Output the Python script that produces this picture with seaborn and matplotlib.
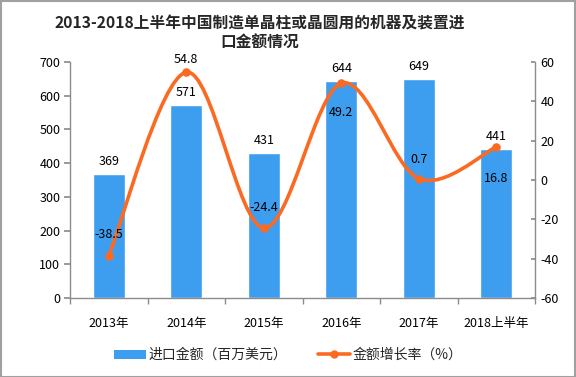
import numpy as np
import pandas as pd
import seaborn as sns
import matplotlib
matplotlib.use("Agg")
import matplotlib.pyplot as plt
from matplotlib.path import Path
from matplotlib.patches import PathPatch, Rectangle, Patch
from matplotlib.lines import Line2D

years = ["2013年", "2014年", "2015年", "2016年", "2017年", "2018上半年"]
imports = [369, 571, 431, 644, 649, 441]
growth = [-38.5, 54.8, -24.4, 49.2, 0.7, 16.8]
growth_labels = ["-38.5", "54.8", "-24.4", "49.2", "0.7", "16.8"]
title = "2013-2018上半年中国制造单晶柱或晶圆用的机器及装置进\n口金额情况"
bar_name = "进口金额（百万美元）"
line_name = "金额增长率（%）"

# label offsets in points (style only)
growth_offsets = [15, 9, 15, -21, 14, -23]

sns.set_theme(style="white")
plt.rcParams['font.family'] = ['Noto Sans CJK SC', 'DejaVu Sans']
plt.rcParams['axes.unicode_minus'] = False

BAR = "#3d9ef0"
LINE = "#fb6a22"
GRAY = "#8c8c8c"

fig = plt.figure(figsize=(5.76, 3.77), dpi=100)
ax = fig.add_axes([70/576, 1-298/377, (535-70)/576, (298-62)/377])

df = pd.DataFrame({"year": years, "value": imports})
sns.barplot(data=df, x="year", y="value", color=BAR, saturation=1, width=0.41, ax=ax)
ax.set_xlim(-0.5, len(years)-0.5)
ax.set_ylim(0, 700)
ax.set_yticks(range(0, 701, 100))
ax.set_xlabel("")
ax.set_ylabel("")
for i, v in enumerate(imports):
    ax.annotate(str(v), (i, v), xytext=(0, 9), textcoords="offset points",
                ha="center", va="center", fontsize=9, color="black")

ax2 = ax.twinx()
ax2.set_ylim(-60, 60)
ax2.set_yticks(range(-60, 61, 20))

# smooth curve via cubic bezier segments (Catmull-Rom)
xs = np.arange(len(growth), dtype=float)
ys = np.array(growth, dtype=float)
verts = [(xs[0], ys[0])]
codes = [Path.MOVETO]
n = len(xs)
for i in range(n-1):
    p0 = np.array([xs[max(i-1, 0)], ys[max(i-1, 0)]])
    p1 = np.array([xs[i], ys[i]])
    p2 = np.array([xs[i+1], ys[i+1]])
    p3 = np.array([xs[min(i+2, n-1)], ys[min(i+2, n-1)]])
    c1 = p1 + (p2 - p0) / 6
    c2 = p2 - (p3 - p1) / 6
    verts += [tuple(c1), tuple(c2), tuple(p2)]
    codes += [Path.CURVE4]*3
ax2.add_patch(PathPatch(Path(verts, codes), fill=False, edgecolor=LINE, lw=2.6, zorder=3))
sns.scatterplot(x=xs, y=ys, color=LINE, s=38, edgecolor=LINE, linewidth=0, ax=ax2, zorder=4)
for i, (v, lab) in enumerate(zip(growth, growth_labels)):
    ax2.annotate(lab, (i, v), xytext=(0, growth_offsets[i]), textcoords="offset points",
                 ha="center", va="center", fontsize=9, color="black", zorder=5)

for a in (ax, ax2):
    for s in a.spines.values():
        s.set_color(GRAY)
        s.set_linewidth(1)
    a.spines["top"].set_visible(False)
    a.tick_params(labelsize=9, colors="black")
ax.spines["right"].set_visible(False)
ax.tick_params(axis="y", left=True, length=4, color=GRAY, direction="out", pad=3)
ax.tick_params(axis="x", bottom=False, pad=8)
ax.set_xticks(np.arange(-0.5, len(years), 1.0), minor=True)
ax.tick_params(axis="x", which="minor", bottom=True, length=4, color=GRAY, direction="out")
ax2.tick_params(axis="y", right=True, length=3, color=GRAY, direction="in", pad=4)
ax2.tick_params(axis="x", bottom=False)
ax2.spines["left"].set_visible(False)
ax2.spines["bottom"].set_visible(False)

fig.text(260/576, 1-33/377, title, ha="center", va="center", fontsize=11.3, fontweight="bold",
         linespacing=1.3)

handles = [Patch(facecolor=BAR, edgecolor="none"),
           Line2D([0], [0], color=LINE, lw=2.6, marker="o", markersize=5)]
fig.legend(handles, [bar_name, line_name], loc="center", bbox_to_anchor=(0.5, 1-355/377),
           ncol=2, frameon=False, fontsize=10, handlelength=2.3, handleheight=0.6,
           columnspacing=2.2, handletextpad=0.2)

fig.patches.append(Rectangle((0.001, 0.001), 0.997, 0.997, transform=fig.transFigure,
                             fill=False, edgecolor="#a0a0a0", lw=1.5))
fig.savefig("out.png", dpi=100)
